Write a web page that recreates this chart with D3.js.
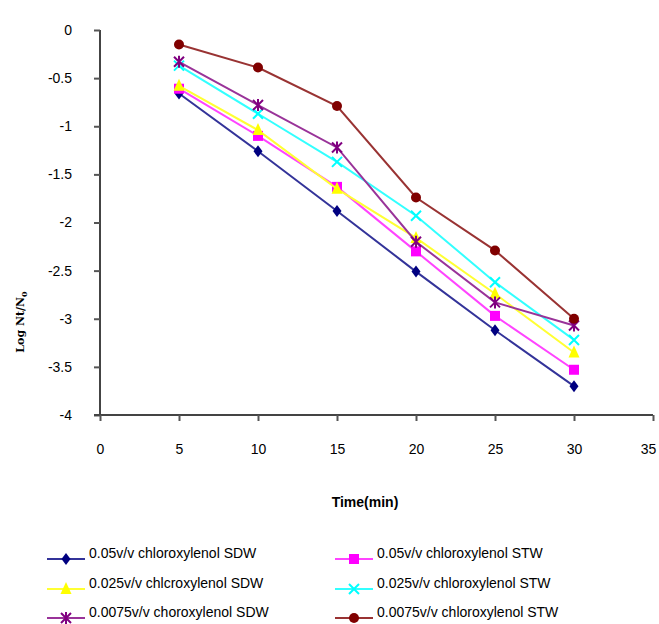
<!DOCTYPE html>
<html><head><meta charset="utf-8">
<script src="https://cdn.jsdelivr.net/npm/d3@7"></script>
<style>body{margin:0;background:#fff}</style>
</head><body>
<svg id="c" width="659" height="624"></svg>
<script>
const times = [5, 10, 15, 20, 25, 30];
const seriesNames = [
  "0.05v/v chloroxylenol SDW",
  "0.05v/v chloroxylenol STW",
  "0.025v/v chlcroxylenol SDW",
  "0.025v/v chloroxylenol STW",
  "0.0075v/v choroxylenol SDW",
  "0.0075v/v chloroxylenol STW"
];
const sdw005 = [-0.66, -1.26, -1.88, -2.51, -3.12, -3.70];
const stw005 = [-0.61, -1.10, -1.63, -2.30, -2.97, -3.53];
const sdw0025 = [-0.58, -1.04, -1.65, -2.16, -2.74, -3.35];
const stw0025 = [-0.37, -0.87, -1.37, -1.93, -2.62, -3.22];
const sdw00075 = [-0.33, -0.78, -1.22, -2.20, -2.83, -3.07];
const stw00075 = [-0.15, -0.39, -0.79, -1.74, -2.29, -3.00];
const xTicks = [0, 5, 10, 15, 20, 25, 30, 35];
const yTicks = [0, -0.5, -1, -1.5, -2, -2.5, -3, -3.5, -4];
const yTickLabels = ["0", "-0.5", "-1", "-1.5", "-2", "-2.5", "-3", "-3.5", "-4"];
const colors = ["#000080", "#FF00FF", "#FFFF00", "#00FFFF", "#800080", "#800000"];
const lineColors = ["#333399", "#FF44FF", "#FFFF33", "#33FFFF", "#993399", "#993333"];
const symbols = ["diamond", "square", "triangle", "x", "star", "circle"];
const allSeries = [sdw005, stw005, sdw0025, stw0025, sdw00075, stw00075];

const svg = d3.select("#c");
const x = d3.scaleLinear().domain([0, 35]).range([100, 653]);
const y = d3.scaleLinear().domain([-4, 0]).range([415, 30]);

// axes
const yAxis = d3.axisLeft(y).tickValues(yTicks).tickSize(6).tickFormat((d, i) => yTickLabels[i]);
const gy = svg.append("g").attr("transform", "translate(100,0)").call(yAxis);
gy.select(".domain").attr("stroke", "#444").attr("stroke-width", 2).attr("d", "M0,30V415");
gy.selectAll(".tick line").attr("stroke", "#555").attr("stroke-width", 2);
gy.selectAll(".tick text").attr("x", -28).attr("font-family", "Liberation Sans, Arial, sans-serif").attr("font-size", 14).attr("fill", "#000");

const xAxis = d3.axisBottom(x).tickValues(xTicks).tickSize(6).tickFormat(d => String(d));
const gx = svg.append("g").attr("transform", "translate(0,415)").call(xAxis);
gx.select(".domain").attr("stroke", "#444").attr("stroke-width", 2).attr("d", "M94,0H653");
gx.selectAll(".tick line").attr("stroke", "#555").attr("stroke-width", 2);
gx.selectAll(".tick text").attr("y", 29).attr("font-family", "Liberation Sans, Arial, sans-serif").attr("font-size", 14).attr("fill", "#000")
  .attr("dx", d => d === 35 ? -5 : 0);

// axis titles
svg.append("text").attr("x", 365).attr("y", 507).attr("text-anchor", "middle")
  .attr("font-family", "Liberation Sans, Arial, sans-serif").attr("font-weight", "bold").attr("font-size", 14)
  .text("Time(min)");
const yt = svg.append("text").attr("transform", "translate(24,322) rotate(-90)").attr("text-anchor", "middle")
  .attr("font-family", "DejaVu Serif, serif").attr("font-weight", "bold").attr("font-size", 11);
yt.append("tspan").text("Log Nt/N");
yt.append("tspan").attr("font-size", 8).attr("dy", 3).text("0");

function drawMarker(g, type, cx, cy, color) {
  if (type === "diamond") {
    g.append("path").attr("d", `M${cx},${cy-6}L${cx+4.5},${cy}L${cx},${cy+6}L${cx-4.5},${cy}Z`).attr("fill", color);
  } else if (type === "square") {
    g.append("rect").attr("x", cx-5).attr("y", cy-5).attr("width", 10).attr("height", 10).attr("fill", color);
  } else if (type === "triangle") {
    g.append("path").attr("d", `M${cx},${cy-7}L${cx+5.5},${cy+5}L${cx-5.5},${cy+5}Z`).attr("fill", color);
  } else if (type === "x") {
    g.append("path").attr("d", `M${cx-5},${cy-5}L${cx+5},${cy+5}M${cx+5},${cy-5}L${cx-5},${cy+5}`).attr("stroke", color).attr("stroke-width", 2);
  } else if (type === "star") {
    g.append("path").attr("d", `M${cx-5},${cy-5}L${cx+5},${cy+5}M${cx+5},${cy-5}L${cx-5},${cy+5}M${cx},${cy-6}V${cy+6}`).attr("stroke", color).attr("stroke-width", 2);
  } else {
    g.append("circle").attr("cx", cx).attr("cy", cy).attr("r", 5).attr("fill", color);
  }
}

const line = d3.line().x((d, i) => x(times[i])).y(d => y(d));
allSeries.forEach((vals, k) => {
  const g = svg.append("g");
  g.append("path").datum(vals).attr("d", line).attr("fill", "none").attr("stroke", lineColors[k]).attr("stroke-width", 2);
  vals.forEach((v, i) => drawMarker(g, symbols[k], x(times[i]), y(v), colors[k]));
});

// legend
const legPos = [[47, 553], [335, 553], [47, 583], [335, 583], [47, 612], [335, 612]];
seriesNames.forEach((name, k) => {
  const [lx, ly] = legPos[k];
  const g = svg.append("g");
  g.append("line").attr("x1", lx).attr("x2", lx + 38).attr("y1", ly + 6).attr("y2", ly + 6)
    .attr("stroke", lineColors[k]).attr("stroke-width", 2);
  drawMarker(g, symbols[k], lx + 19, ly + 6, colors[k]);
  g.append("text").attr("x", lx + 42).attr("y", ly + 5).attr("font-family", "Liberation Sans, Arial, sans-serif")
    .attr("font-size", 14).attr("fill", "#000").text(name);
});
</script>
</body></html>
